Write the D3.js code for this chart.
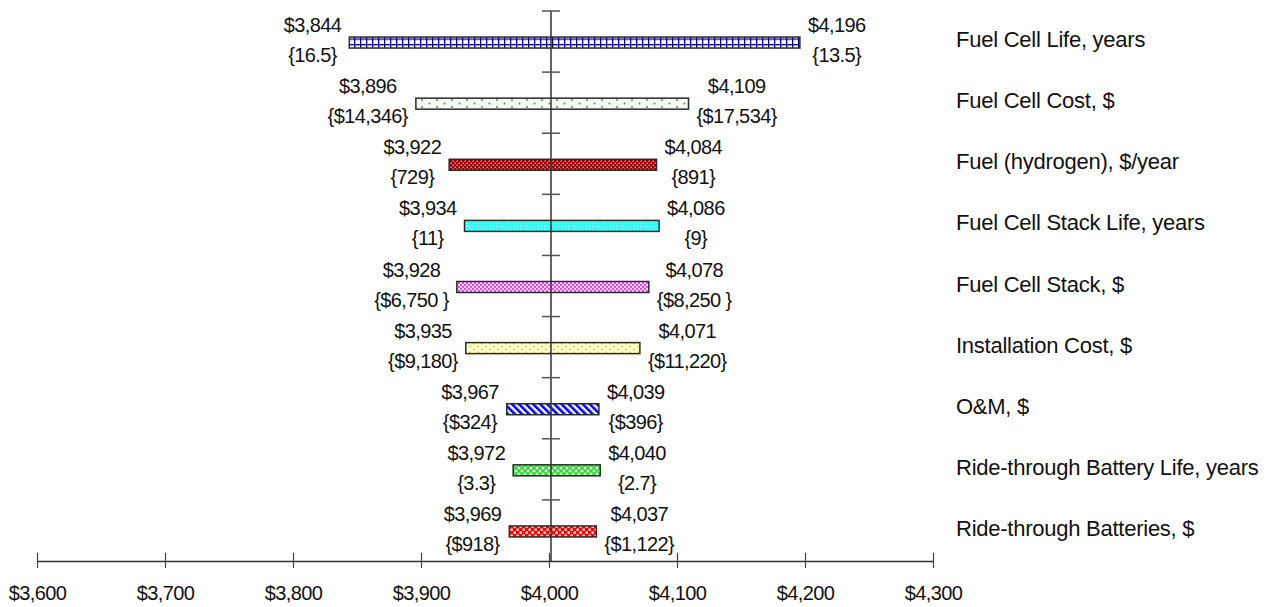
<!DOCTYPE html>
<html>
<head>
<meta charset="utf-8">
<script src="https://cdn.jsdelivr.net/npm/d3@7"></script>
<style>
  body { margin: 0; background: #fff; }
  text { font-family: "Liberation Sans", Arial, sans-serif; fill: #111; }
</style>
</head>
<body>
<script>
// tornado chart data
var categories = ["Fuel Cell Life, years", "Fuel Cell Cost, $", "Fuel (hydrogen), $/year",
    "Fuel Cell Stack Life, years", "Fuel Cell Stack, $", "Installation Cost, $", "O&M, $",
    "Ride-through Battery Life, years", "Ride-through Batteries, $"];
var lowCost = [3844, 3896, 3922, 3934, 3928, 3935, 3967, 3972, 3969];
var highCost = [4196, 4109, 4084, 4086, 4078, 4071, 4039, 4040, 4037];
var lowInput = ["{16.5}", "{$14,346}", "{729}", "{11}", "{$6,750 }", "{$9,180}", "{$324}", "{3.3}", "{$918}"];
var highInput = ["{13.5}", "{$17,534}", "{891}", "{9}", "{$8,250 }", "{$11,220}", "{$396}", "{2.7}", "{$1,122}"];
var baseCost = 4000;
var xTicks = [3600, 3700, 3800, 3900, 4000, 4100, 4200, 4300];

var width = 1265, height = 607;
var fmt = d3.format("$,.0f");

var svg = d3.select("body").append("svg")
    .attr("width", width)
    .attr("height", height);

var x = d3.scaleLinear().domain([3600, 4300]).range([37, 933]);
var y = d3.scaleBand().domain(categories).range([11, 561]).paddingInner(0);

// fill patterns, one per bar
var defs = svg.append("defs");
function pat(id, w, h, bg) {
    var p = defs.append("pattern").attr("id", id)
        .attr("patternUnits", "userSpaceOnUse")
        .attr("width", w).attr("height", h);
    p.append("rect").attr("width", w).attr("height", h).attr("fill", bg);
    return p;
}
var p0 = pat("p0", 6, 5.5, "#fff");
p0.append("rect").attr("width", 6).attr("height", 1.3).attr("fill", "#000080");
p0.append("rect").attr("width", 1.3).attr("height", 5.5).attr("fill", "#000080");

var p1 = pat("p1", 15, 7, "#f6faf4");
p1.append("circle").attr("cx", 2).attr("cy", 2).attr("r", 0.9).attr("fill", "#22aa22");
p1.append("circle").attr("cx", 9.5).attr("cy", 5.5).attr("r", 0.9).attr("fill", "#22aa22");

var p2 = pat("p2", 4, 4, "#990000");
p2.append("rect").attr("x", 0.5).attr("y", 0.5).attr("width", 1.3).attr("height", 1.3).attr("fill", "#f3c0c0");
p2.append("rect").attr("x", 2.5).attr("y", 2.5).attr("width", 1.3).attr("height", 1.3).attr("fill", "#f3c0c0");

var p3 = pat("p3", 3, 3, "#33ffff");
p3.append("rect").attr("x", 1).attr("y", 1).attr("width", 1).attr("height", 1).attr("fill", "#e0ffff");

var p4 = pat("p4", 4, 4, "#ffe4ff");
p4.append("circle").attr("cx", 1).attr("cy", 1).attr("r", 1).attr("fill", "#ff00ff");
p4.append("circle").attr("cx", 3).attr("cy", 3).attr("r", 1).attr("fill", "#ff00ff");

var p5 = pat("p5", 8, 6, "#ffffd8");
p5.append("circle").attr("cx", 2).attr("cy", 1.5).attr("r", 1.1).attr("fill", "#f0e000");
p5.append("circle").attr("cx", 6).attr("cy", 4.5).attr("r", 1.1).attr("fill", "#f0e000");

var p6 = pat("p6", 5, 5, "#fff").attr("patternTransform", "rotate(-45)");
p6.append("rect").attr("width", 2.6).attr("height", 5).attr("fill", "#0000ff");

var p7 = pat("p7", 6, 6, "#fff");
p7.append("path").attr("d", "M0,0L6,6M6,0L0,6").attr("stroke", "#22dd22").attr("stroke-width", 1.6);

var p8 = pat("p8", 6, 6, "#ff0000");
p8.append("rect").attr("x", 0.5).attr("y", 0.5).attr("width", 2.3).attr("height", 2.3).attr("fill", "#fff");
p8.append("rect").attr("x", 3.5).attr("y", 3.5).attr("width", 2.3).attr("height", 2.3).attr("fill", "#fff");

// bars
var rows = categories.map(function(c, i) {
    return {cat: c, lo: lowCost[i], hi: highCost[i], loIn: lowInput[i], hiIn: highInput[i], i: i};
});
function mid(d) { return y(d.cat) + y.bandwidth() / 2; }

svg.append("g").selectAll("rect")
    .data(rows).enter().append("rect")
    .attr("x", function(d) { return x(d.lo); })
    .attr("y", function(d) { return mid(d) - 4.5; })
    .attr("width", function(d) { return x(d.hi) - x(d.lo); })
    .attr("height", 11)
    .attr("fill", function(d) { return "url(#p" + d.i + ")"; })
    .attr("stroke", "#2a2a2a")
    .attr("stroke-width", 1.5);

// vertical axis through base case
var vx = x(baseCost) + 2;
svg.append("line")
    .attr("x1", vx).attr("x2", vx)
    .attr("y1", y.range()[0]).attr("y2", y.range()[1])
    .attr("stroke", "#333").attr("stroke-width", 1.5);
svg.append("g").selectAll("line")
    .data(categories).enter().append("line")
    .attr("x1", vx - 9).attr("x2", vx + 9)
    .attr("y1", function(d) { return y(d); })
    .attr("y2", function(d) { return y(d); })
    .attr("stroke", "#555").attr("stroke-width", 1.5);

// bottom axis
var axis = svg.append("g")
    .attr("transform", "translate(0," + y.range()[1] + ")")
    .call(d3.axisBottom(x).tickValues(xTicks).tickFormat(fmt).tickSizeInner(7).tickSizeOuter(0));
axis.select(".domain").attr("stroke", "#333").attr("stroke-width", 1.5);
axis.selectAll(".tick line").attr("y1", -8).attr("stroke", "#444").attr("stroke-width", 1.2);
axis.selectAll(".tick text")
    .attr("y", 39).attr("dy", null)
    .style("font-size", "20px")
    .style("letter-spacing", "-0.6px")
    .style("font-family", "Liberation Sans, Arial, sans-serif")
    .attr("fill", "#111");

// two-line labels either side of each bar
function labelBlock(g, lines, edge, side) {
    var t = g.selectAll("text").data(lines).enter().append("text")
        .style("font-size", "20px")
        .style("letter-spacing", "-0.6px")
        .attr("text-anchor", "middle")
        .text(function(s) { return s.text; });
    var w = 0;
    t.each(function() { w = Math.max(w, this.getComputedTextLength()); });
    var cx = side < 0 ? edge - 8 - w / 2 : edge + 8 + w / 2;
    t.attr("x", cx).attr("y", function(s) { return s.y; });
}
rows.forEach(function(d) {
    var m = mid(d);
    labelBlock(svg.append("g"), [{text: fmt(d.lo), y: m - 9.5}, {text: d.loIn, y: m + 20.5}], x(d.lo), -1);
    labelBlock(svg.append("g"), [{text: fmt(d.hi), y: m - 9.5}, {text: d.hiIn, y: m + 20.5}], x(d.hi), 1);
});

// category names on the right
svg.append("g").selectAll("text")
    .data(categories).enter().append("text")
    .attr("x", 956)
    .attr("y", function(d) { return y(d) + y.bandwidth() / 2 + 5.5; })
    .style("font-size", "22px")
    .style("letter-spacing", "-0.25px")
    .text(function(d) { return d; });
</script>
</body>
</html>
